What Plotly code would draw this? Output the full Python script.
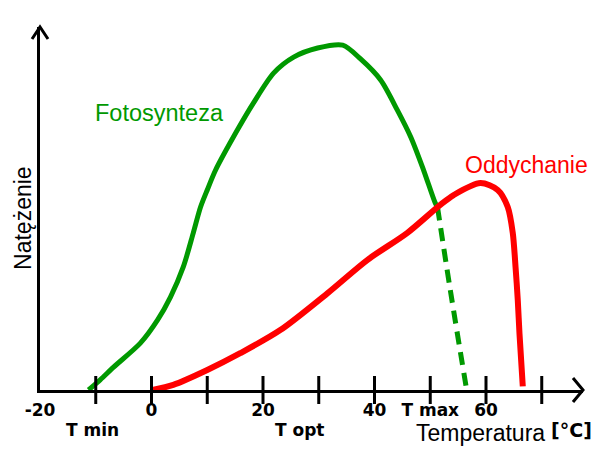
import plotly.graph_objects as go

# Data (temperature in °C, intensity in arbitrary units 0-100)
photo_x = [-11.3, -9.2, -6.8, -2.0, 1.1, 3.4, 5.7, 7.5, 8.8, 10.0, 11.5, 15.4, 18.3, 21.9,
           25.5, 29.8, 34.3, 37.5, 41.1, 44.1, 46.5, 48.8, 50.9, 51.3]
photo_y = [0.0, 2.8, 6.3, 12.9, 19.3, 25.6, 33.9, 43.3, 50.4, 55.1, 60.6, 71.6, 79.1, 87.3,
           91.7, 94.2, 95.0, 91.2, 85.4, 77.1, 69.7, 60.6, 51.5, 50.4]
photo_dash_x = [51.3, 53.6, 56.5]
photo_dash_y = [50.4, 27.5, 0.3]

resp_x = [0.2, 3.9, 10.0, 16.0, 23.1, 31.6, 38.7, 45.9, 51.8, 54.2, 59.0, 62.1,
          63.9, 64.8, 65.3, 65.7, 66.0, 66.6]
resp_y = [0.0, 1.4, 5.5, 10.2, 16.5, 26.7, 35.8, 43.3, 51.0, 53.7, 57.0, 55.1,
          50.4, 43.3, 33.9, 24.8, 15.7, 1.0]

tick_marks = [-10, 0, 10, 20, 30, 40, 50, 60, 70]
tick_vals = [-20, 0, 20, 40, 50, 60]
tick_text = ["-20", "0", "20", "40", "T max", "60"]
extra_labels = ["T min", "T opt"]
extra_label_x = [-10.5, 26.7]

GREEN = "#009900"
RED = "#ff0000"

fig = go.Figure()
fig.add_trace(go.Scatter(x=photo_x, y=photo_y, mode="lines",
                         line=dict(color=GREEN, width=5, shape="spline", smoothing=0.8),
                         cliponaxis=False, hoverinfo="skip"))
fig.add_trace(go.Scatter(x=photo_dash_x, y=photo_dash_y, mode="lines",
                         line=dict(color=GREEN, width=5, dash="13px,8px", shape="spline"),
                         cliponaxis=False, hoverinfo="skip"))
fig.add_trace(go.Scatter(x=resp_x, y=resp_y, mode="lines",
                         line=dict(color=RED, width=6, shape="spline", smoothing=0.8),
                         cliponaxis=False, hoverinfo="skip"))
fig.add_trace(go.Scatter(x=tick_marks, y=[0] * len(tick_marks), mode="markers",
                         marker=dict(symbol="line-ns", size=20, line=dict(color="black", width=3)),
                         cliponaxis=False, hoverinfo="skip"))

bold = dict(family="DejaVu Sans", size=17, color="black", weight="bold")


def py(pix):
    # vertical paper position from a pixel row (plot area spans rows 27..390)
    return (390 - pix) / 363


annotations = [
    dict(x=1.4, yref="y", y=76.3, text="Fotosynteza",
         font=dict(family="Liberation Sans", size=23.5, color=GREEN)),
    dict(x=67.2, yref="y", y=62.0, text="Oddychanie",
         font=dict(family="Liberation Sans", size=23, color=RED)),
    dict(x=59.0, yref="paper", y=py(433), text="Temperatura",
         font=dict(family="Liberation Sans", size=23, color="black")),
    dict(x=75.4, yref="paper", y=py(430), text="[°C]",
         font=dict(family="DejaVu Sans", size=19, color="black", weight="bold")),
]
for lab, lx in zip(extra_labels, extra_label_x):
    annotations.append(dict(x=lx, yref="paper", y=py(430), text=lab, font=bold))
annotations.append(dict(xref="paper", x=0, xshift=-17, yref="y", y=47.4, text="Natężenie",
                        textangle=-90, font=dict(family="Liberation Sans", size=23, color="black")))
for a in annotations:
    a.setdefault("xref", "x")
    a["showarrow"] = False
    a["xanchor"] = "center"
    a["yanchor"] = "middle"

shapes = [
    dict(type="path", xref="paper", yref="paper", xsizemode="pixel", ysizemode="pixel",
         xanchor=1, yanchor=0, path="M-10,12 L0,0 L-10,-12",
         line=dict(color="black", width=3)),
    dict(type="path", xref="paper", yref="paper", xsizemode="pixel", ysizemode="pixel",
         xanchor=0, yanchor=1, path="M-8,-12 L0,0 L8,-12",
         line=dict(color="black", width=3)),
]

fig.update_layout(
    width=600, height=450,
    margin=dict(l=40, r=17, t=27, b=60),
    plot_bgcolor="white", paper_bgcolor="white",
    showlegend=False,
    xaxis=dict(range=[-20, 77.4], showgrid=False, zeroline=False, showline=True,
               linecolor="black", linewidth=3, tickvals=tick_vals, ticktext=tick_text,
               ticks="", tickfont=bold, ticklabelstandoff=3, fixedrange=True),
    yaxis=dict(range=[0, 100], showgrid=False, zeroline=False, showline=True,
               linecolor="black", linewidth=3, showticklabels=False, ticks="", fixedrange=True),
    annotations=annotations,
    shapes=shapes,
)

fig.write_html("out.html", config={"displayModeBar": False},
               post_script="document.body.style.margin='0';")
